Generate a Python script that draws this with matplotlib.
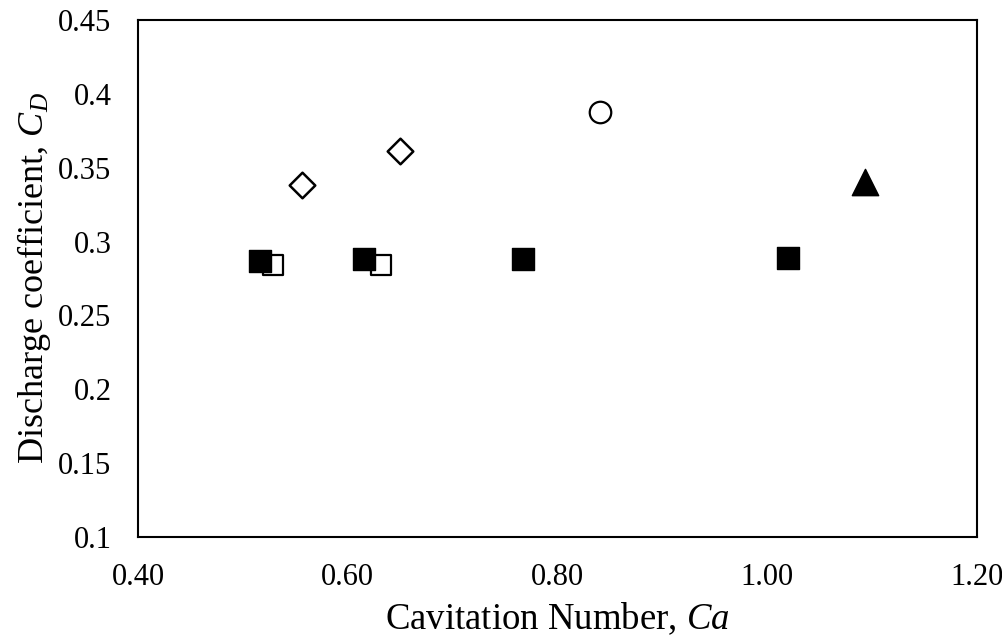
import matplotlib
matplotlib.use("Agg")
import matplotlib.pyplot as plt

plt.rcParams['font.family'] = ['Liberation Serif', 'DejaVu Serif']
plt.rcParams['mathtext.fontset'] = 'custom'
plt.rcParams['mathtext.it'] = 'Liberation Serif:italic'
plt.rcParams['mathtext.rm'] = 'Liberation Serif'

filled_sq_x = [0.516, 0.616, 0.767, 1.020]
filled_sq_y = [0.287, 0.288, 0.288, 0.289]
open_sq_x = [0.529, 0.632]
open_sq_y = [0.284, 0.284]
diamond_x = [0.556, 0.650]
diamond_y = [0.338, 0.361]
circle_x = [0.8405]
circle_y = [0.388]
triangle_x = [1.093]
triangle_y = [0.340]

xticks = [0.40, 0.60, 0.80, 1.00, 1.20]
yticks = [0.1, 0.15, 0.2, 0.25, 0.3, 0.35, 0.4, 0.45]

fig = plt.figure(figsize=(10.02, 6.37), dpi=100)
ax = fig.add_axes([0.1377, 0.157, 0.8373, 0.8116])

ax.scatter(open_sq_x, open_sq_y, marker='s', s=225, facecolors='white', edgecolors='black', linewidths=1.6, zorder=2)
ax.scatter(filled_sq_x, filled_sq_y, marker='s', s=250, facecolors='black', edgecolors='black', linewidths=1, zorder=3)
ax.scatter(diamond_x, diamond_y, marker='D', s=170, facecolors='white', edgecolors='black', linewidths=1.8, zorder=3)
ax.scatter(circle_x, circle_y, marker='o', s=240, facecolors='white', edgecolors='black', linewidths=1.6, zorder=3)
ax.scatter(triangle_x, triangle_y, marker='^', s=360, facecolors='black', edgecolors='black', linewidths=1, zorder=3)

ax.set_xlim(0.40, 1.20)
ax.set_ylim(0.1, 0.45)
ax.set_xticks(xticks)
ax.set_xticklabels([f"{v:.2f}" for v in xticks])
ax.set_yticks(yticks)
ax.set_yticklabels([f"{v:g}" for v in yticks])
ax.tick_params(length=0, labelsize=22, pad=19)
for sp in ax.spines.values():
    sp.set_linewidth(1.5)

ax.set_xlabel('Cavitation Number, $Ca$', fontsize=26.5, labelpad=6)
ax.set_ylabel('Discharge coefficient, $C_D$', fontsize=26, labelpad=4)

fig.savefig('out.png', dpi=100)
